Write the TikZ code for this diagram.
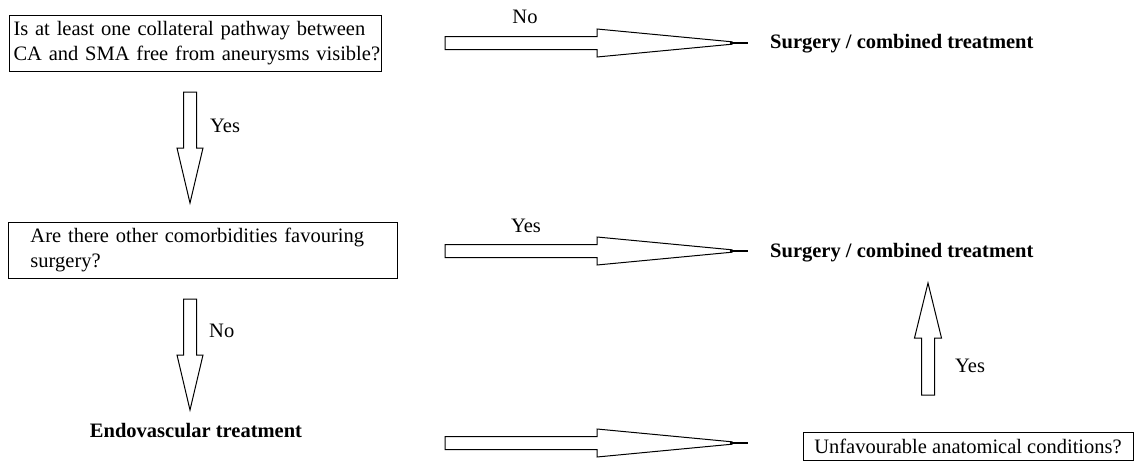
\documentclass[tikz,border=0pt]{standalone}
\usepackage{fontspec}
\setmainfont{Liberation Serif}
\newcommand\fs{\fontsize{20.5}{25}\selectfont}
\tikzset{
 box/.style={draw, line width=1pt, inner sep=0pt, font=\fs},
 barrow/.style={draw, line width=1pt, line join=miter, fill=white},
 lbl/.style={inner sep=0pt, font=\fs},
 res/.style={inner sep=0pt, font=\fs\bfseries}
}
% block arrow with thin tip: #1 start, #2 angle, #3 shaft, #4 total, #5 head half-width
\newcommand\harrow[5]{%
\begin{scope}[shift={(#1)}, rotate=#2]
 \path[barrow] (0,-6.5) -- (#3,-6.5) -- (#3,-#5) -- ({#4-16},-1.2) -- ({#4-16},1.2) -- (#3,#5) -- (#3,6.5) -- (0,6.5) -- cycle;
 \draw[line width=2pt] ({#4-18},0) -- (#4,0);
\end{scope}}
% block arrow with pointed tip
\newcommand\varrow[5]{%
\begin{scope}[shift={(#1)}, rotate=#2]
 \path[barrow] (0,-6.5) -- (#3,-6.5) -- (#3,-#5) -- (#4,0) -- (#3,#5) -- (#3,6.5) -- (0,6.5) -- cycle;
\end{scope}}
\begin{document}
\begin{tikzpicture}[x=1pt,y=-1pt]
\useasboundingbox (0,0) rectangle (1135,461);
% boxes
\node[box, anchor=west, text width=364pt, inner xsep=4pt, minimum height=56pt, align=left] (q1) at (9,43)
 {\mbox{Is at least one collateral pathway between}\\\mbox{CA and SMA free from aneurysms visible?}};
\node[box, anchor=west, text width=345pt, inner xsep=22pt, minimum height=56pt, align=left] (q2) at (8,250)
 {\mbox{Are there other comorbidities favouring}\\\mbox{surgery?}};
\node[box, minimum width=330pt, minimum height=28pt] (q3) at (968,446) {Unfavourable anatomical conditions?};
% results
\node[res, anchor=base west] (s1) at (770,48) {Surgery / combined treatment};
\node[res, anchor=base west] (s2) at (770,257) {Surgery / combined treatment};
\node[res, anchor=base] (endo) at (196,437) {Endovascular treatment};
% arrow start points
\coordinate (a1) at (445,43);
\coordinate (a2) at (445,251);
\coordinate (a3) at (445,443);
\coordinate (a4) at (190,92);
\coordinate (a5) at (190,299);
\coordinate (a6) at (928,395);
\harrow{a1}{0}{152}{303}{14}
\harrow{a2}{0}{152}{303}{14}
\harrow{a3}{0}{152}{303}{14}
\varrow{a4}{-90}{56}{111}{13}
\varrow{a5}{-90}{56}{111}{13}
\varrow{a6}{90}{57}{112}{13.5}
% labels
\node[lbl, anchor=base] (l1) at (525,23) {No};
\node[lbl, anchor=base] (l2) at (526,232) {Yes};
\node[lbl, anchor=base west] (l3) at (210,132) {Yes};
\node[lbl, anchor=base west] (l4) at (209,337) {No};
\node[lbl, anchor=base west] (l5) at (955,372) {Yes};
\end{tikzpicture}
\end{document}
